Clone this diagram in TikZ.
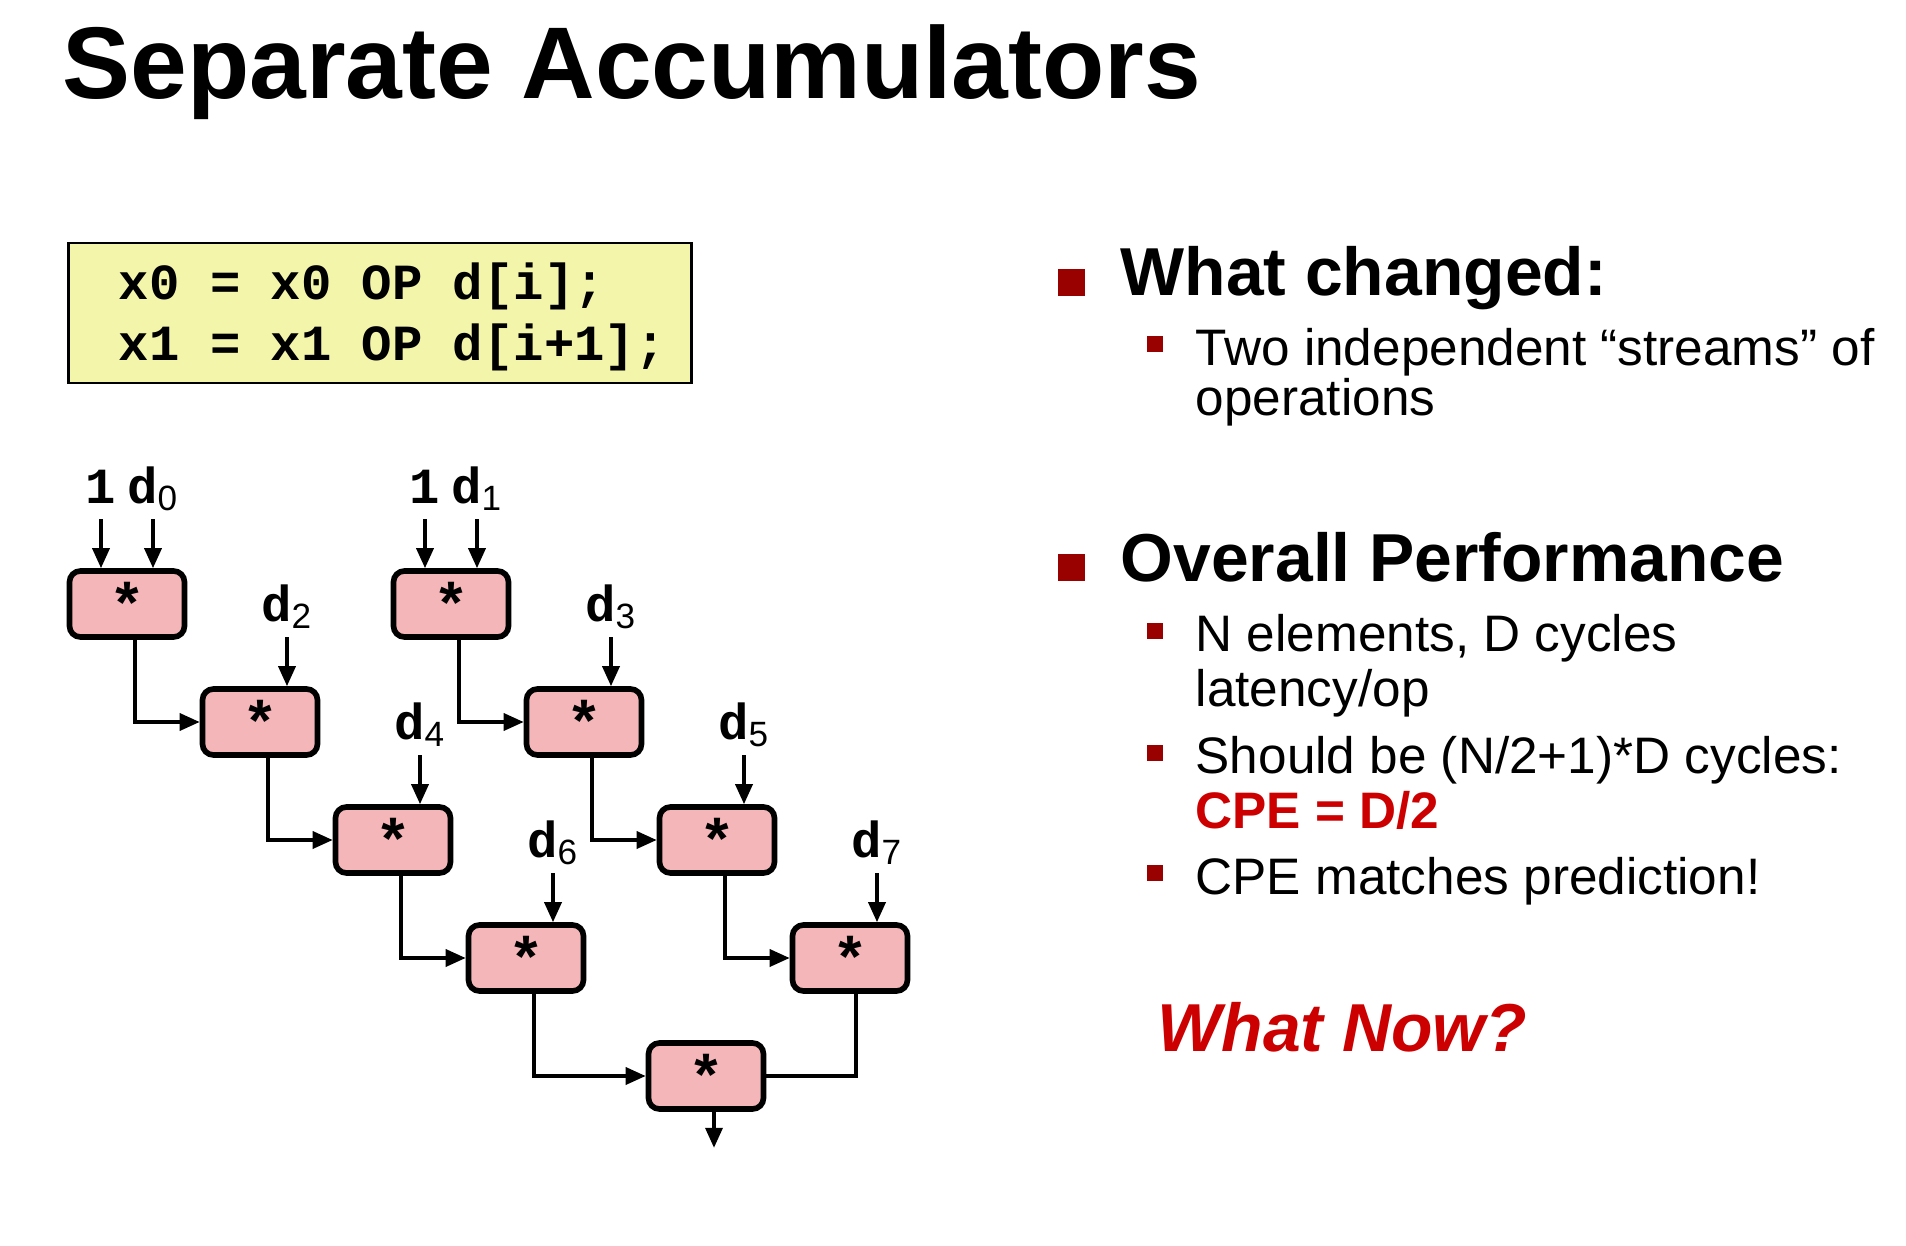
\documentclass[tikz,border=0pt]{standalone}
\usepackage{fontspec}
\setmainfont{Liberation Sans}
\setmonofont{Liberation Mono}
\usepackage{tikz}
\usetikzlibrary{arrows.meta,positioning}

\definecolor{opfill}{HTML}{F5B6B9}
\definecolor{codefill}{HTML}{F3F5AA}
\definecolor{bulletred}{HTML}{990000}
\definecolor{hired}{HTML}{CC0000}

\newcommand{\dsub}[1]{d\textsubscript{\rmfamily\mdseries #1}}

\tikzset{
  op/.style={draw, line width=1.6pt, fill=opfill, rounded corners=1.1mm,
    minimum width=11.5mm, minimum height=6.6mm, inner sep=0pt,
    font=\ttfamily\bfseries\fontsize{17}{17}\selectfont},
  inlab/.style={anchor=base, inner sep=0pt,
    font=\ttfamily\bfseries\fontsize{14.4}{17}\selectfont},
  flow/.style={line width=1pt, -{Triangle[length=2mm,width=1.7mm]}},
  codebox/.style={draw, line width=0.7pt, fill=codefill, minimum width=62.3mm,
    minimum height=14mm, inner sep=0pt},
  codetext/.style={anchor=west, inner sep=0pt, align=left,
    font=\ttfamily\bfseries\fontsize{14.4}{17.4}\selectfont},
  hd/.style={anchor=base west, inner sep=0pt, font=\bfseries\fontsize{19.3}{23}\selectfont},
  txt/.style={anchor=base west, inner sep=0pt, font=\fontsize{14.6}{18}\selectfont},
  bigsq/.style={fill=bulletred, anchor=south west, minimum size=2.7mm, inner sep=0pt},
  smsq/.style={fill=bulletred, anchor=south west, minimum size=1.6mm, inner sep=0pt}
}

\begin{document}
\begin{tikzpicture}[x=0.1mm,y=-0.1mm]
  \useasboundingbox (0,0) rectangle (1906,1246);

  % title
  \node[anchor=base west, inner sep=0pt, font=\bfseries\fontsize{29}{34}\selectfont]
    (title) at (62,99) {Separate Accumulators};

  % code
  \node[codebox] (code) at (380,313) {};
  \node[codetext] (codetxt) at ([xshift=5.1mm,yshift=-0.4mm]code.west)
    {x0 = x0 OP d[i];\\x1 = x1 OP d[i+1];};

  % the two streams
  \foreach \i in {1,...,4}{
    \node[op] (a\i) at ({127+133*(\i-1)},{604+118*(\i-1)}) {*};
    \node[op] (b\i) at ({451+133*(\i-1)},{604+118*(\i-1)}) {*};
  }
  \node[op] (c) at (706,1076) {*};

  % first inputs
  \foreach \s/\k in {a/0,b/1}{
    \coordinate (one\s) at ([xshift=-2.6mm,yshift=4.9mm]\s1.north);
    \coordinate (dat\s) at ([xshift=2.6mm,yshift=4.9mm]\s1.north);
    \node[inlab] (lone\s) at ([yshift=1.6mm]one\s) {1};
    \node[inlab] (ldat\s) at ([yshift=1.6mm]dat\s) {\dsub{\k}};
    \draw[flow] (one\s) -- (one\s |- \s1.north);
    \draw[flow] (dat\s) -- (dat\s |- \s1.north);
  }

  % later inputs
  \foreach \i/\da/\db in {2/2/3,3/4/5,4/6/7}{
    \coordinate (ia\i) at ([xshift=2.7mm,yshift=4.9mm]a\i.north);
    \coordinate (ib\i) at ([xshift=2.7mm,yshift=4.9mm]b\i.north);
    \node[inlab] (la\i) at ([yshift=1.6mm]ia\i) {\dsub{\da}};
    \node[inlab] (lb\i) at ([yshift=1.6mm]ib\i) {\dsub{\db}};
    \draw[flow] (ia\i) -- (ia\i |- a\i.north);
    \draw[flow] (ib\i) -- (ib\i |- b\i.north);
  }

  % chains
  \foreach \i [evaluate=\i as \j using int(\i+1)] in {1,2,3}{
    \draw[flow] ([xshift=0.8mm]a\i.south) |- (a\j.west);
    \draw[flow] ([xshift=0.8mm]b\i.south) |- (b\j.west);
  }
  \draw[flow] ([xshift=0.8mm]a4.south) |- (c.west);
  \draw[line width=1pt] ([xshift=0.6mm]b4.south) |- (c.east);
  \coordinate (out) at ([xshift=0.8mm,yshift=-3.6mm]c.south);
  \draw[flow] ([xshift=0.8mm]c.south) -- (out);

  % right column
  \node[bigsq] (sq1) at (1057,297) {};
  \node[hd] (changed) at (1120,296) {What changed:};
  \node[smsq] (s1) at (1146,353) {};
  \node[txt] (two) at (1195,365) {Two independent “streams” of};
  \node[txt] (ops) at (1195,415) {operations};

  \node[bigsq] (sq2) at (1057,582) {};
  \node[hd] (perf) at (1120,581) {Overall Performance};
  \node[smsq] (s2) at (1146,640) {};
  \node[txt] (nel) at (1195,651) {N elements, D cycles};
  \node[txt] (lat) at (1195,706) {latency/op};
  \node[smsq] (s3) at (1146,762) {};
  \node[txt] (should) at (1195,773) {Should be (N/2+1)*D cycles:};
  \node[txt, text=hired, font=\bfseries\fontsize{14.6}{18}\selectfont] (cpe) at (1195,828) {CPE = D/2};
  \node[smsq] (s4) at (1146,882) {};
  \node[txt] (match) at (1195,894) {CPE matches prediction!};

  \node[hd, text=hired, font=\bfseries\itshape\fontsize{19.3}{23}\selectfont] (now) at (1157,1051) {What Now?};
\end{tikzpicture}
\end{document}
